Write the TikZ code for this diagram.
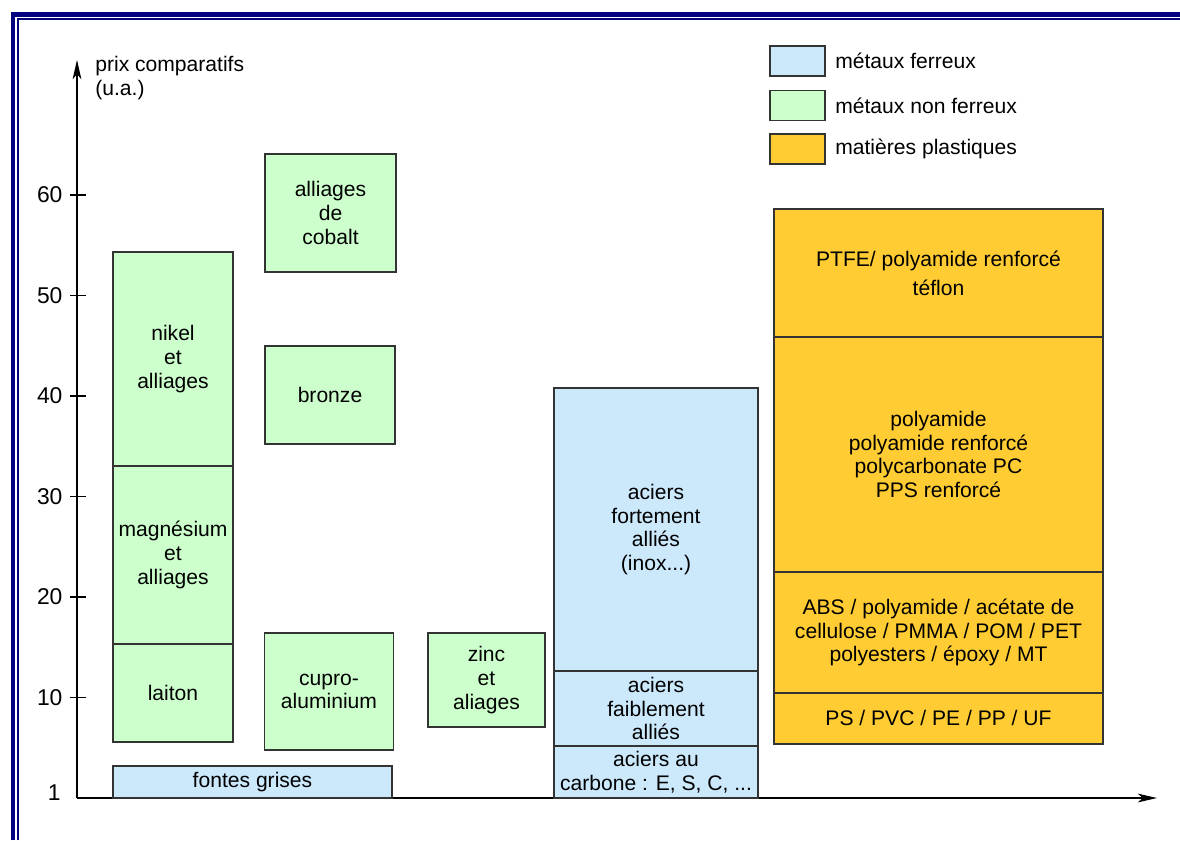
\documentclass[tikz,border=0pt]{standalone}
\usepackage{fontspec}
\setmainfont{Liberation Sans}
\usetikzlibrary{arrows.meta,positioning}

\definecolor{ferreux}{RGB}{204,233,252}
\definecolor{nonferreux}{RGB}{204,255,204}
\definecolor{plastique}{RGB}{255,204,51}
\definecolor{cadre}{RGB}{0,0,128}

\begin{document}
\begin{tikzpicture}[x=0.02cm,y=-0.02cm,
                    every node/.style={font=\fontsize{12}{13.5}\selectfont},
                    bloc/.style={draw=black!80,line width=0.8pt,inner sep=0pt,outer sep=0pt,align=center},
                    fe/.style={bloc,fill=ferreux},
                    nfe/.style={bloc,fill=nonferreux},
                    pl/.style={bloc,fill=plastique},
                    axe/.style={line width=0.6pt,-{Stealth[length=11pt,width=5pt,inset=3pt]}}]

\useasboundingbox (0,0) rectangle (1180,840);

% cadre
\draw[cadre,line width=2.3pt] (13,840) -- (13,14.5) -- (1180,14.5);
\draw[cadre,line width=1.1pt] (18,840) -- (18,19) -- (1180,19);

% axes
\coordinate (o) at (77,798);
\coordinate (ytop) at (77,60);
\coordinate (xend) at (1157,798);
\draw[axe] (o) -- (ytop);
\draw[axe] (o) -- (xend);
\node[anchor=north west,align=left,inner sep=0pt] (titre) at (95,56) {prix comparatifs\\(u.a.)};

\foreach \v in {10,20,...,60}
  \draw[line width=0.6pt] (70,798-\v*10.05) -- (86,798-\v*10.05)
    node[pos=0,anchor=east,inner sep=0pt,xshift=-4pt,font=\fontsize{13}{15}\selectfont] {\v};
\node[anchor=east,inner sep=0pt,font=\fontsize{13}{15}\selectfont] (un) at (61,793) {1};

% legende
\node[fe,minimum width=1.1cm,minimum height=0.6cm] (lfe) at (797.5,61) {};
\node[right=0.2cm of lfe,inner sep=0pt] {métaux ferreux};
\node[nfe,minimum width=1.1cm,minimum height=0.6cm] (lnfe) at (797.5,105.5) {};
\node[right=0.2cm of lnfe,inner sep=0pt] {métaux non ferreux};
\node[pl,minimum width=1.1cm,minimum height=0.6cm] (lpl) at (797.5,149) {};
\node[right=0.2cm of lpl,inner sep=0pt] {matières plastiques};

% metaux non ferreux
\node[nfe,minimum width=2.4cm,minimum height=4.28cm] (nikel) at (173,359) {nikel\\et\\alliages};
\node[nfe,minimum width=2.4cm,minimum height=3.56cm,below=0pt of nikel] (magnesium) {magnésium\\et\\alliages};
\node[nfe,minimum width=2.4cm,minimum height=1.96cm,below=0pt of magnesium] (laiton) {laiton};
\node[nfe,minimum width=2.62cm,minimum height=2.36cm] (cobalt) at (330.5,213) {alliages\\de\\cobalt};
\node[nfe,minimum width=2.6cm,minimum height=1.96cm] (bronze) at (330,395) {bronze};
\node[nfe,minimum width=2.58cm,minimum height=2.34cm] (cupro) at (329,691.5) {cupro-\\aluminium};
\node[nfe,minimum width=2.34cm,minimum height=1.88cm] (zinc) at (486.5,680) {zinc\\et\\aliages};

% metaux ferreux
\node[fe,minimum width=5.58cm,minimum height=0.64cm] (fontes) at (252.5,782) {fontes grises};
\node[fe,minimum width=4.08cm,minimum height=5.66cm] (fortement) at (656,529.5) {aciers\\fortement\\alliés\\(inox...)};
\node[fe,minimum width=4.08cm,minimum height=1.5cm,below=0pt of fortement] (faiblement) {aciers\\faiblement\\alliés};
\node[fe,minimum width=4.08cm,minimum height=1.04cm,below=0pt of faiblement] (carbone) {aciers au\\carbone : E, S, C, ...};

% matieres plastiques
\node[pl,minimum width=6.58cm,minimum height=2.56cm] (ptfe) at (938.5,273) {PTFE/ polyamide renforcé\\[3pt]téflon};
\node[pl,minimum width=6.58cm,minimum height=4.7cm,below=0pt of ptfe] (polyamide) {polyamide\\polyamide renforcé\\polycarbonate PC\\PPS renforcé};
\node[pl,minimum width=6.58cm,minimum height=2.42cm,below=0pt of polyamide] (abs) {ABS / polyamide / acétate de\\cellulose / PMMA / POM / PET\\polyesters / époxy / MT};
\node[pl,minimum width=6.58cm,minimum height=1.02cm,below=0pt of abs] (ps) {PS / PVC / PE / PP / UF};

\end{tikzpicture}
\end{document}
